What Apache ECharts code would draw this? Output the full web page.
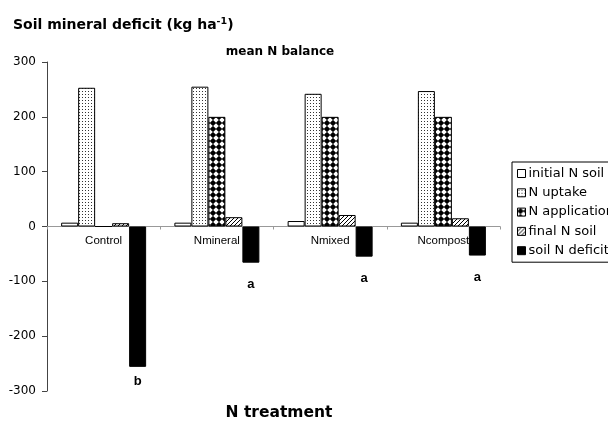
<!DOCTYPE html>
<html><head><meta charset="utf-8">
<script src="https://cdn.jsdelivr.net/npm/echarts@6/dist/echarts.min.js"></script>
<style>html,body{margin:0;padding:0;background:#fff}#c{width:608px;height:423px}</style>
</head><body><div id="c"></div>
<script>
const categories = ['Control', 'Nmineral', 'Nmixed', 'Ncompost'];
const seriesNames = ['initial N soil', 'N uptake', 'N application', 'final N soil', 'soil N deficit'];
const initialNSoil = [7, 7, 10, 7];
const nUptake = [253, 255, 242, 247];
const nApplication = [0, 200, 200, 200];
const finalNSoil = [6, 17, 21, 15];
const soilNDeficit = [-256, -66, -55, -53];
const significance = ['b', 'a', 'a', 'a'];
const yMin = -300, yMax = 300, yStep = 100;

const SANS = 'DejaVu Sans';
const ARIAL = 'Liberation Sans';

function pattern(w, h, draw) {
  const c = document.createElement('canvas');
  c.width = w; c.height = h;
  const g = c.getContext('2d');
  g.fillStyle = '#fff'; g.fillRect(0, 0, w, h);
  draw(g);
  return { image: c, repeat: 'repeat' };
}
const patWhite = '#ffffff';
const patDots = pattern(3, 3, g => { g.fillStyle = '#333'; g.fillRect(1, 1, 1, 1); });
const patDiamond = pattern(6, 6, g => {
  g.fillStyle = '#000';
  g.beginPath(); g.moveTo(3, -0.2); g.lineTo(6.2, 3); g.lineTo(3, 6.2); g.lineTo(-0.2, 3); g.closePath(); g.fill();
});
const patHatch = pattern(4, 4, g => {
  g.strokeStyle = '#000'; g.lineWidth = 1;
  g.beginPath(); g.moveTo(-1, 5); g.lineTo(5, -1); g.stroke();
  g.beginPath(); g.moveTo(3, 5); g.lineTo(5, 3); g.stroke();
  g.beginPath(); g.moveTo(-1, 1); g.lineTo(1, -1); g.stroke();
});
const fills = [patWhite, patDots, patDiamond, patHatch, '#000'];
const datasets = [initialNSoil, nUptake, nApplication, finalNSoil, soilNDeficit];

const series = datasets.map((d, i) => {
  const s = {
    name: seriesNames[i], type: 'bar', barWidth: 17, barGap: '0%',
    itemStyle: { color: fills[i], borderColor: '#000', borderWidth: 1 },
    data: d.slice(), animation: false
  };
  if (i === 4) {
    s.data = d.map((v, k) => ({
      value: v,
      label: {
        show: true, position: 'bottom', distance: k === 0 ? 8 : 15,
        formatter: significance[k], fontFamily: ARIAL, fontWeight: 'bold',
        fontSize: 13, color: '#000'
      }
    }));
  }
  return s;
});

const gridTop = 62, gridBottom = 32, H = 423;
const chart = echarts.init(document.getElementById('c'), null, { renderer: 'canvas' });
chart.setOption({
  animation: false,
  backgroundColor: '#fff',
  textStyle: { fontFamily: SANS },
  title: [
    { text: '{b|Soil mineral deficit (kg ha}{s|-1}{b|)}', left: 8, top: 12,
      textStyle: { rich: {
        b: { fontSize: 14, fontWeight: 'bold', color: '#000', fontFamily: SANS },
        s: { fontSize: 9.5, fontWeight: 'bold', color: '#000', verticalAlign: 'top', padding: [0, 0, 6, 0], fontFamily: SANS }
      } } },
    { text: 'mean N balance', left: 275, top: 41, textAlign: 'center',
      textStyle: { fontSize: 12, fontWeight: 'bold', color: '#000', fontFamily: SANS } },
    { text: 'N treatment', left: 274, top: 400, textAlign: 'center',
      textStyle: { fontSize: 15.5, fontWeight: 'bold', color: '#000', fontFamily: SANS } }
  ],
  legend: {
    orient: 'vertical', left: 512, top: 162, data: seriesNames,
    itemWidth: 8, itemHeight: 8, itemGap: 4.3, padding: [4, 5, 4, 5],
    borderColor: '#000', borderWidth: 1, icon: 'rect',
    textStyle: { fontSize: 13, lineHeight: 15, color: '#000', fontFamily: SANS, padding: [0, 0, 0, -2] },
    itemStyle: { borderColor: '#000', borderWidth: 1 }
  },
  grid: { left: 47, right: 108, top: gridTop, bottom: gridBottom, containLabel: false },
  xAxis: {
    type: 'category', data: categories, offset: 0,
    axisLine: { onZero: false, lineStyle: { color: '#999', width: 1 } },
    axisTick: { show: true, length: 3, lineStyle: { color: '#999' } },
    axisLabel: { fontSize: 11.5, color: '#000', margin: 8, fontFamily: ARIAL },
    splitLine: { show: false }
  },
  yAxis: {
    type: 'value', min: yMin, max: yMax, interval: yStep,
    axisLine: { show: true, lineStyle: { color: '#444', width: 1 } },
    axisTick: { show: true, length: 5, lineStyle: { color: '#444' } },
    axisLabel: { fontSize: 12, color: '#000', margin: 11, fontFamily: SANS },
    splitLine: { show: false }
  },
  series: series
});
// place the category axis on the zero line (computed from the value scale)
const zeroY = chart.convertToPixel({ yAxisIndex: 0 }, 0);
const bottomY = H - gridBottom;
chart.setOption({ xAxis: { offset: zeroY - bottomY } });
</script>
</body></html>
